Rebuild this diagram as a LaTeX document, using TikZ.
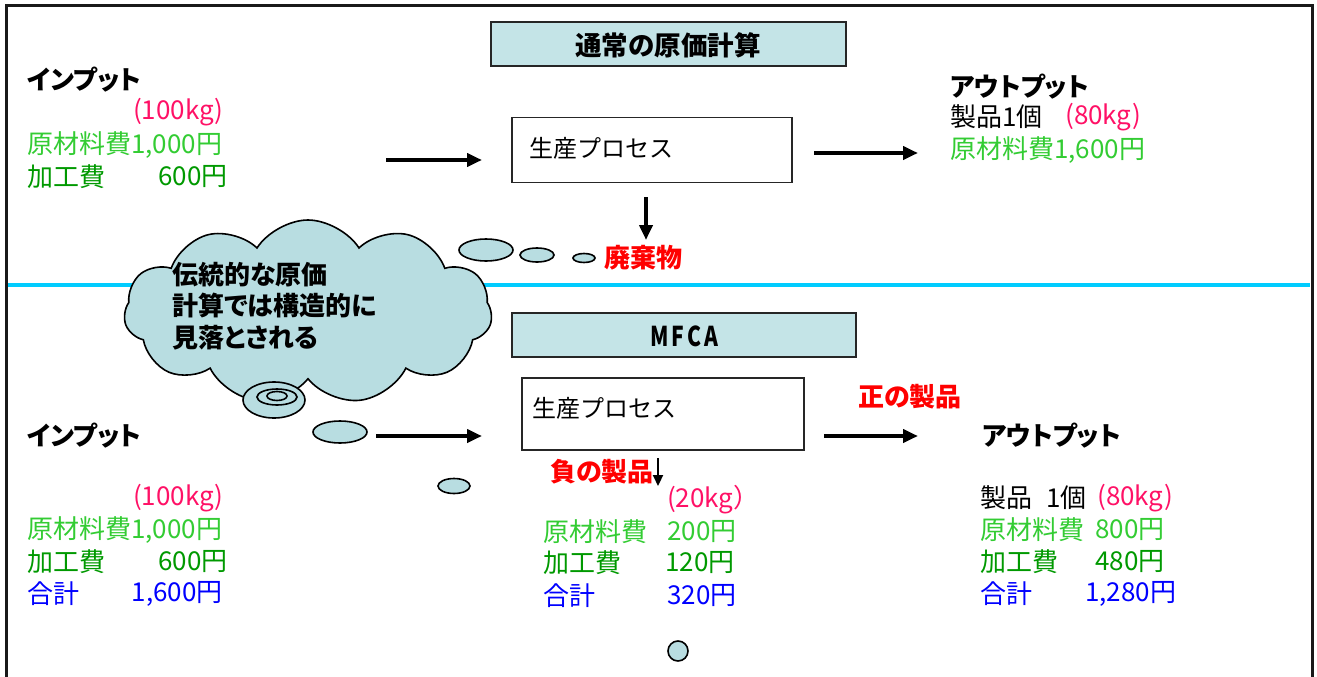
\documentclass[tikz,border=0pt]{standalone}
\usepackage{fontspec}
\usepackage{graphicx}
\setmainfont[BoldFeatures={RawFeature=+palt}]{Noto Sans CJK JP}
\usetikzlibrary{shapes.symbols,shapes.geometric,arrows.meta}
\definecolor{pinkc}{HTML}{FF1166}
\definecolor{lgreen}{HTML}{33CC33}
\definecolor{dgreen}{HTML}{009900}
\definecolor{bluec}{HTML}{0000FF}
\definecolor{redc}{HTML}{FF0000}
\definecolor{boxfill}{HTML}{C4E4E7}
\definecolor{cloudfill}{HTML}{B8DDE1}
\definecolor{cyanline}{HTML}{00CCFF}
\tikzset{
  txt/.style={anchor=west,inner sep=0pt,font=\fontsize{26}{30}\selectfont},
  ptxt/.style={txt,font=\fontsize{24}{28}\selectfont},
  btxt/.style={txt,font=\fontsize{26}{30}\selectfont\bfseries},
  titlebox/.style={draw=black!85,line width=2pt,fill=boxfill,inner sep=0pt},
  procbox/.style={draw=black!85,line width=1.4pt,fill=white,inner sep=0pt},
  bigarrow/.style={line width=4pt,-{Triangle[length=15pt,width=13pt]}},
  smallarrow/.style={line width=2.2pt,-{Triangle[length=11pt,width=10pt]}},
  bubble/.style={draw=black,line width=1.6pt,fill=cloudfill},
}
\begin{document}
\begin{tikzpicture}[x=1pt,y=-1pt]
\useasboundingbox (0,0) rectangle (1317,677);
% frame
\draw[line width=3pt,black!90] (6,677) -- (6,6) -- (1312,6) -- (1312,677);
% separator line
\draw[line width=4pt,cyanline] (8,285) -- (1310,285);

% ---------- upper part ----------
\node[titlebox,minimum width=355pt,minimum height=44pt] (title1) at (668,44) {};
\node[font=\fontsize{26.5}{30}\selectfont\bfseries,inner sep=0pt] (title1t) at (668,45) {通常の原価計算};

\node[procbox,minimum width=280pt,minimum height=65pt] (proc1) at (652,150) {};
\node[ptxt] (proc1t) at (529,148) {生産プロセス};

\node[btxt] (in1) at (27,80) {インプット};
\node[txt,text=pinkc] (in1kg) at (133,112) {(100kg)};
\node[txt,text=lgreen] (in1m) at (27,145) {原材料費1,000円};
\node[txt,text=dgreen] (in1k) at (27,177) {加工費};
\node[txt,text=dgreen,anchor=east] (in1kv) at (228,177) {600円};

\coordinate (a1s) at (386,160);
\coordinate (a1e) at (482,160);
\draw[bigarrow] (a1s) -- (a1e);
\coordinate (a2s) at (814,153);
\coordinate (a2e) at (918,153);
\draw[bigarrow] (a2s) -- (a2e);
\coordinate (a3s) at (646,197);
\coordinate (a3e) at (646,240);
\draw[bigarrow] (a3s) -- (a3e);
\node[btxt,text=redc] (waste) at (604,258) {廃棄物};

\node[btxt] (out1) at (950,87) {アウトプット};
\node[txt] (out1p) at (950,117) {製品1個};
\node[txt,text=pinkc] (out1kg) at (1065,117) {(80kg)};
\node[txt,text=lgreen] (out1m) at (950,150) {原材料費1,600円};

% ---------- cloud ----------
\node[cloud,cloud puffs=11,cloud puff arc=115,aspect=1.9,bubble,minimum width=368pt,minimum height=184pt,inner sep=0pt] (cloud) at (308,312) {};
\node[btxt,align=left,font=\fontsize{26}{31.5}\selectfont\bfseries] (cloudt) at (172,306) {伝統的な原価\\計算では構造的に\\見落とされる};
% thought bubbles
\draw[bubble] (274,400) ellipse [x radius=31,y radius=18];
\draw[bubble] (277,397) ellipse [x radius=20,y radius=8];
\draw[bubble] (277,396) ellipse [x radius=10,y radius=4.5];
\draw[bubble] (340,432) ellipse [x radius=27,y radius=11];
\draw[bubble] (454,486) ellipse [x radius=16,y radius=7.5];
\draw[bubble] (486,250) ellipse [x radius=27,y radius=11];
\draw[bubble] (537,255) ellipse [x radius=17,y radius=7];
\draw[bubble] (584,258) ellipse [x radius=11,y radius=4.5];
\draw[bubble] (678,651) circle [radius=10];

% ---------- lower part ----------
\node[titlebox,minimum width=344pt,minimum height=44pt] (title2) at (684,335) {};
\node[font=\fontsize{21}{24}\selectfont\bfseries,inner sep=0pt] (title2t) at (684,336) {\scalebox{1}[1.3]{M\kern3pt F\kern3pt C\kern3pt A}};

\node[procbox,minimum width=282pt,minimum height=72pt] (proc2) at (663,414) {};
\node[ptxt] (proc2t) at (532,408) {生産プロセス};

\node[btxt] (in2) at (27,436) {インプット};
\node[txt,text=pinkc] (in2kg) at (133,498) {(100kg)};
\node[txt,text=lgreen] (in2m) at (27,530) {原材料費1,000円};
\node[txt,text=dgreen] (in2k) at (27,562) {加工費};
\node[txt,text=dgreen,anchor=east] (in2kv) at (228,562) {600円};
\node[txt,text=bluec] (in2s) at (27,594) {合計};
\node[txt,text=bluec,anchor=east] (in2sv) at (223,594) {1,600円};

\coordinate (b1s) at (376,436);
\coordinate (b1e) at (482,436);
\draw[bigarrow] (b1s) -- (b1e);
\coordinate (b2s) at (824,436);
\coordinate (b2e) at (918,436);
\draw[bigarrow] (b2s) -- (b2e);
\node[btxt,text=redc] (pos) at (858,397) {正の製品};

\node[btxt,text=redc] (neg) at (550,472) {負の製品};
\coordinate (b3s) at (658,458);
\coordinate (b3e) at (658,486);
\draw[smallarrow] (b3s) -- (b3e);

\node[txt,text=pinkc] (negkg) at (667,500) {(20kg）};
\node[txt,text=lgreen] (negm) at (543,532) {原材料費};
\node[txt,text=lgreen] (negmv) at (667,532) {200円};
\node[txt,text=dgreen] (negk) at (543,563) {加工費};
\node[txt,text=dgreen] (negkv) at (665,563) {120円};
\node[txt,text=bluec] (negs) at (543,596) {合計};
\node[txt,text=bluec] (negsv) at (667,596) {320円};

\node[btxt] (out2) at (982,436) {アウトプット};
\node[txt] (out2p) at (980,498) {製品\hspace{14pt}1個};
\node[txt,text=pinkc] (out2kg) at (1097,498) {(80kg)};
\node[txt,text=lgreen] (out2m) at (980,530) {原材料費};
\node[txt,text=lgreen] (out2mv) at (1095,530) {800円};
\node[txt,text=dgreen] (out2k) at (980,562) {加工費};
\node[txt,text=dgreen] (out2kv) at (1095,562) {480円};
\node[txt,text=bluec] (out2s) at (980,594) {合計};
\node[txt,text=bluec] (out2sv) at (1085,594) {1,280円};
\end{tikzpicture}
\end{document}
